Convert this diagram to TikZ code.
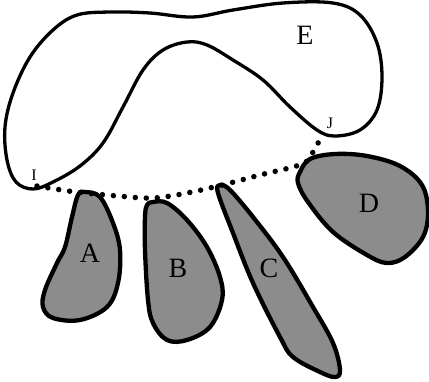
\documentclass[tikz,border=0pt]{standalone}
\usepackage{fontspec}
\setmainfont{Liberation Serif}
\definecolor{blobgray}{RGB}{140,140,140}
\begin{document}
\begin{tikzpicture}[x=1pt,y=-1pt,
  outline/.style={line width=3.3pt,line join=round},
  blob/.style={line width=4.3pt,fill=blobgray,line join=round},
  dotline/.style={line width=5.5pt,line cap=round,dash pattern=on 0pt off 11pt},
  biglabel/.style={font=\fontsize{28}{30}\selectfont,inner sep=0pt},
  smalllabel/.style={font=\fontsize{16}{18}\selectfont,inner sep=0pt}]
\useasboundingbox (0,0) rectangle (429,381);
% E
\draw[outline] plot[smooth cycle,tension=0.6] coordinates {
 (33,189) (16,182) (7,160) (5,127) (13,93) (30,57) (53,30) (77,15) (110,12) (150,13)
 (193,17) (233,10) (283,3) (333,3) (360,15) (377,43) (382,77) (377,110)
 (360,130) (335,136) (317,130) (290,107) (263,80) (233,60) (207,45) (187,42)
 (163,50) (143,70) (123,107) (103,143) (80,166) (53,182)};
% A
\draw[blob] plot[smooth cycle,tension=0.6] coordinates {
 (85,192) (100,197) (113,223) (120,250) (118,283) (107,307) (80,320) (53,318)
 (43,307) (45,290) (57,263) (65,247) (72,217) (78,195)};
% B
\draw[blob] plot[smooth cycle,tension=0.6] coordinates {
 (153,202) (167,203) (187,220) (207,247) (220,277) (222,300) (210,327) (187,340)
 (167,340) (153,323) (148,300) (145,250) (145,217) (147,205)};
% C
\draw[blob] plot[smooth cycle,tension=0.6] coordinates {
 (220,185) (230,190) (253,217) (283,257) (313,307) (333,343) (340,370) (335,377)
 (320,372) (293,357) (280,337) (253,283) (233,233) (218,193)};
% D
\draw[blob] plot[smooth cycle,tension=0.6] coordinates {
 (300,172) (310,159) (335,154) (367,156) (400,166) (422,185) (428,212) (423,237)
 (405,257) (387,263) (367,255) (333,232) (308,202) (298,183)};
% points
\coordinate (I) at (37,186);
\coordinate (p1) at (68,191);
\coordinate (Atop) at (85,193);
\coordinate (p2) at (118,196);
\coordinate (Btop) at (153,198);
\coordinate (p3) at (187,193);
\coordinate (Ctop) at (222,185);
\coordinate (p4) at (260,175);
\coordinate (Dtop) at (302,164);
\coordinate (p5) at (313,152);
\coordinate (J) at (321,137);
\draw[dotline] plot[smooth,tension=0.6] coordinates {(I) (p1) (Atop) (p2) (Btop) (p3) (Ctop) (p4) (Dtop) (p5) (J)};
% labels
\node[biglabel] (E) at (305,35) {E};
\node[biglabel] (A) at (90,253) {A};
\node[biglabel] (B) at (178,268) {B};
\node[biglabel] (C) at (269,268) {C};
\node[biglabel] (D) at (369,203) {D};
\node[smalllabel] (Il) at (34,175) {I};
\node[smalllabel] (Jl) at (330,123) {J};
\end{tikzpicture}
\end{document}
